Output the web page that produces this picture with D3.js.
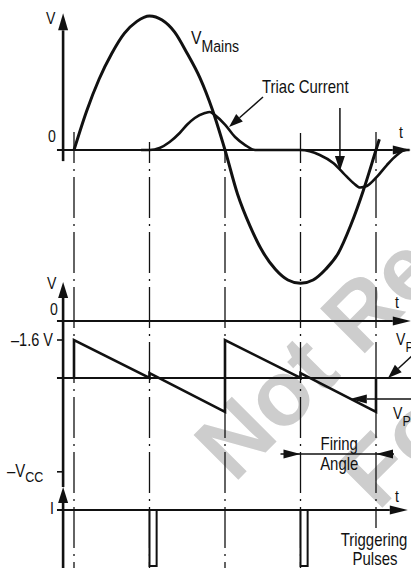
<!DOCTYPE html>
<html><head><meta charset="utf-8">
<script src="https://cdn.jsdelivr.net/npm/d3@7"></script>
<style>
html,body{margin:0;padding:0;background:#fff}
svg{display:block}
text{font-family:"Liberation Sans",Arial,sans-serif;fill:#111}
</style></head><body>
<svg id="c" width="411" height="571"></svg>
<script>
// ---------- data (phase in degrees) ----------
const phaseMarks = [0, 90, 180, 270, 360];
const mainsDeg = [0,15,30,45,60,75,90,105,120,135,150,165,180,195,210,225,240,255,270,285,300,315,330,345,360,364];
const mainsVal = [0,0.29,0.53,0.72,0.87,0.96,1.0,0.97,0.88,0.72,0.54,0.3,0,-0.33,-0.57,-0.76,-0.89,-0.97,-0.995,-0.97,-0.89,-0.77,-0.56,-0.3,0,0.08];
const triacDeg = [80,90,102,114,126,135,144,156,162,168,180,192,204,216,270,293,309,321,333,341,349,361,373,385,395,400];
const triacVal = [0,0,0.015,0.06,0.127,0.19,0.239,0.276,0.284,0.26,0.19,0.097,0.037,0,0,-0.037,-0.097,-0.172,-0.246,-0.28,-0.269,-0.201,-0.112,-0.037,0,0];
const rampDeg  = [0,0,90,90,180,180,270,270,360,360];
const rampVolt = [-4.8,-1.6,-4.8,-4.38,-7.66,-1.6,-4.8,-4.38,-7.66,-4.8];
const levelZero = 0, levelStart = -1.6, levelVP = -4.8, levelVCC = -12.7;
const pulseStart = [90, 270];
const pulseWidth = 8.5;
const pulseDepth = -1;
const firingFrom = 270, firingTo = 360;

// ---------- scales ----------
const svg = d3.select("#c");
const x = d3.scaleLinear().domain([0,360]).range([74,376]);
const yTop = d3.scaleLinear().domain([-1,1]).range([284,16]);
const yMid = d3.scaleLinear().domain([0,-1.6]).range([321,340]);
const yBot = d3.scaleLinear().domain([0,-1]).range([510,566]);
const axisX = x(-13);
const leftX = x(-20.3);
const rightX = x(401.5);
const ink = "#111";
const SX = 0.83;

function head(tx,ty,fx,fy,len,hw){
  const dx=tx-fx, dy=ty-fy, L=Math.hypot(dx,dy), ux=dx/L, uy=dy/L;
  const bx=tx-ux*len, by=ty-uy*len;
  return [[tx,ty],[bx-uy*hw,by+ux*hw],[bx+uy*hw,by-ux*hw]];
}
function arrow(g,fx,fy,tx,ty,w,len,hw){
  const h=head(tx,ty,fx,fy,len,hw);
  const bx=(h[1][0]+h[2][0])/2, by=(h[1][1]+h[2][1])/2;
  g.append("line").attr("x1",fx).attr("y1",fy).attr("x2",bx).attr("y2",by)
    .attr("stroke",ink).attr("stroke-width",w);
  g.append("polygon").attr("points",h.map(p=>p.join(",")).join(" ")).attr("fill",ink);
}
function txt(g,px,py,str,size,anchor){
  return g.append("text").attr("transform",`translate(${px},${py}) scale(${SX},1)`)
    .attr("text-anchor",anchor||"start").style("font-size",size+"px").text(str);
}
function sub(g,px,py,main,size,subStr,subSize,dy){
  const t=g.append("text").attr("transform",`translate(${px},${py}) scale(${SX},1)`).style("font-size",size+"px");
  t.append("tspan").text(main);
  t.append("tspan").attr("dy",dy).style("font-size",subSize+"px").text(subStr);
  return t;
}

// ---------- watermark ----------
const wm = svg.append("g")
  .style("font-family","'Liberation Sans',Arial,sans-serif").style("font-weight","bold").style("font-size","92px");
wm.append("text").attr("transform","translate(234,484) rotate(-45)").style("fill","#cdcdcd").text("Not Recommended");
wm.append("text").attr("transform","translate(378,512) rotate(-45)").style("fill","#cdcdcd").text("For New Designs");

const g = svg.append("g");

// ---------- dash-dot phase lines ----------
const startY = [132,142,150,133,132];
const endY = [568,568,568,568,528];
phaseMarks.forEach((p,i)=>{
  const y0=startY[i];
  const off=((47-(169-y0))%55+55)%55;
  g.append("line").attr("x1",x(p)).attr("x2",x(p)).attr("y1",y0).attr("y2",endY[i])
   .attr("stroke",ink).attr("stroke-width",1.3)
   .attr("stroke-dasharray","41,6,2,6").attr("stroke-dashoffset",off);
});

// ---------- top panel ----------
arrow(g,axisX,yTop(-0.083),axisX,yTop(1.02),2.6,17,5);
arrow(g,leftX,yTop(0),rightX,yTop(0),2,18,4.5);
const lineTop = d3.line().x(d=>x(d[0])).y(d=>yTop(d[1])).curve(d3.curveMonotoneX);
g.append("path").attr("d",lineTop(d3.zip(mainsDeg,mainsVal))).attr("fill","none").attr("stroke",ink).attr("stroke-width",3);
g.append("path").attr("d",lineTop(d3.zip(triacDeg,triacVal))).attr("fill","none").attr("stroke",ink).attr("stroke-width",2.6);

txt(g,46,23.5,"V",17);
txt(g,48,142,"0",17);
txt(g,399,138,"t",17);
sub(g,191,44,"V",19,"Mains",17,8);
txt(g,262,93,"Triac Current",18);
arrow(g,263,97,229,127,1.5,14,5);
arrow(g,x(317),108,x(317),171,1.5,15,5);

// ---------- middle panel ----------
arrow(g,axisX,487,axisX,282,2.6,16,5);
arrow(g,leftX,yMid(levelZero),rightX,yMid(levelZero),2,18,4.5);
g.append("line").attr("x1",leftX).attr("x2",411).attr("y1",yMid(levelVP)).attr("y2",yMid(levelVP)).attr("stroke",ink).attr("stroke-width",1.8);
[levelStart,levelVCC].forEach(v=>{
  g.append("line").attr("x1",leftX).attr("x2",axisX).attr("y1",yMid(v)).attr("y2",yMid(v)).attr("stroke",ink).attr("stroke-width",1.6);
});
const lineMid = d3.line().x(d=>x(d[0])).y(d=>yMid(d[1]));
g.append("path").attr("d",lineMid(d3.zip(rampDeg,rampVolt))).attr("fill","none").attr("stroke",ink).attr("stroke-width",2.6).attr("stroke-linejoin","miter");

txt(g,47,288.5,"V",17);
txt(g,50,315,"0",17);
txt(g,395,308,"t",17);
txt(g,53,yMid(levelStart)+5.5,"–1.6 V",17.5,"end");
sub(g,7,yMid(levelVCC)+5.5,"–V",18,"CC",15,5);
sub(g,396,345,"V",17,"P",15,7);
arrow(g,413,355,388,yMid(levelVP),1.5,14,5);
sub(g,393,419,"V",17,"P",15,7);
const tipV = rampVolt[7] + (rampVolt[8]-rampVolt[7])*(330-270)/90;
arrow(g,412,yMid(tipV),x(330)-1,yMid(tipV),1.5,17,4.5);

// firing angle
const fy=454;
g.append("line").attr("x1",x(firingFrom)-20).attr("x2",x(firingTo)+18).attr("y1",fy).attr("y2",fy).attr("stroke",ink).attr("stroke-width",1.3);
g.append("polygon").attr("points",head(x(firingFrom),fy,x(firingFrom)-20,fy,17,4.5).map(p=>p.join(",")).join(" ")).attr("fill",ink);
g.append("polygon").attr("points",head(x(firingTo),fy,x(firingTo)+20,fy,17,4.5).map(p=>p.join(",")).join(" ")).attr("fill",ink);
const fc=(x(firingFrom)+x(firingTo))/2+1;
txt(g,fc,450,"Firing",18,"middle");
txt(g,fc,470,"Angle",18,"middle");

// ---------- bottom panel ----------
arrow(g,axisX,568,axisX,487,2.6,16,5);
arrow(g,leftX,yBot(0),rightX-3,yBot(0),2,18,4.5);
pulseStart.forEach(p=>{
  g.append("rect").attr("x",x(p)).attr("y",yBot(0)).attr("width",x(p+pulseWidth)-x(p)).attr("height",yBot(pulseDepth)-yBot(0))
   .attr("fill","#fff").attr("stroke",ink).attr("stroke-width",2);
});
txt(g,50,514,"I",17);
txt(g,395,502,"t",17);
txt(g,374,546,"Triggering",18,"middle");
txt(g,375,565,"Pulses",18,"middle");
</script>
</body></html>
